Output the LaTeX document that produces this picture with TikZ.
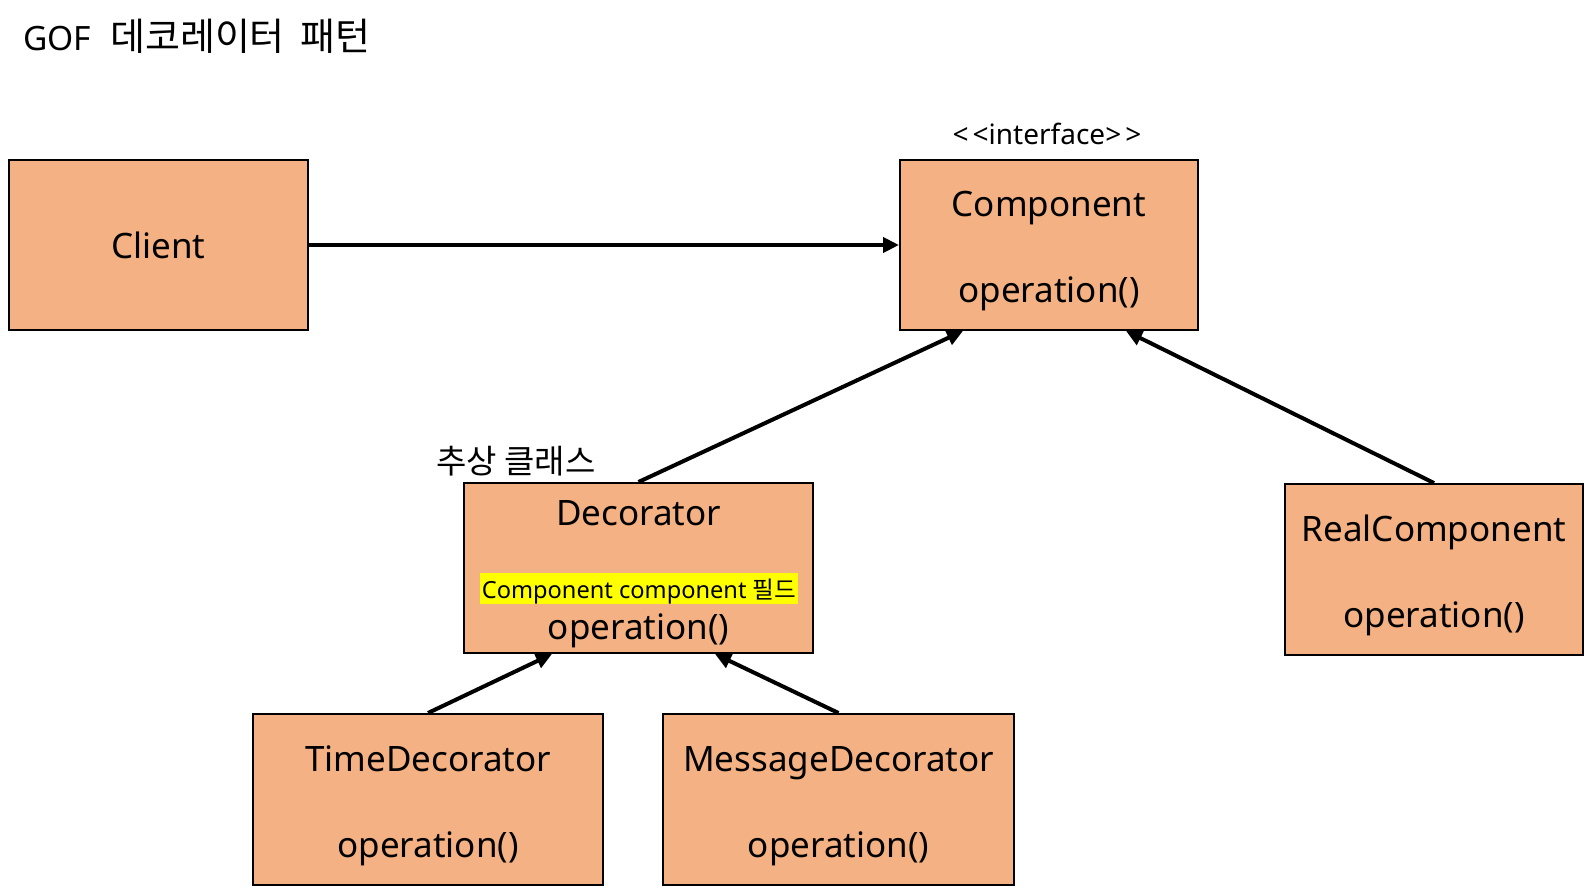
\documentclass[tikz,border=0pt]{standalone}
\usepackage{fontspec}
\setmainfont{Noto Sans}
\newfontfamily\krfont{Noto Sans CJK KR}
\usetikzlibrary{arrows.meta}
\definecolor{boxfill}{HTML}{F4B183}
\definecolor{hl}{HTML}{FFFF00}
\tikzset{
  cls/.style={draw=black, line width=2pt, fill=boxfill, inner sep=0pt},
  txt/.style={inner sep=0pt, anchor=base, font=\fontsize{35}{40}\selectfont},
  conn/.style={line width=4pt, -{Triangle[length=16pt,width=15pt]}},
}
\begin{document}
\begin{tikzpicture}[x=1pt,y=-1pt]
\useasboundingbox[fill=white] (0,0) rectangle (1588,888);
% title
\node[inner sep=0pt, anchor=base west] (title) at (23,51) {\fontsize{33.5}{38}\selectfont GOF\hspace{19pt}{\krfont\fontsize{38}{42}\selectfont 데코레이터\hspace{7pt} 패턴}};
% boxes
\node[cls, minimum width=299pt, minimum height=170pt] (client) at (158.5,245) {};
\node[cls, minimum width=298pt, minimum height=170pt] (comp) at (1049,245) {};
\node[cls, minimum width=349pt, minimum height=170pt] (dec) at (638.5,568) {};
\node[cls, minimum width=298pt, minimum height=171pt] (real) at (1434,569.5) {};
\node[cls, minimum width=350pt, minimum height=171pt] (time) at (428,799.5) {};
\node[cls, minimum width=351pt, minimum height=171pt] (msg) at (838.5,799.5) {};
% texts
\node[txt] (clientname) at (158.5,258) {Client};
\node[inner sep=0pt, anchor=base, font=\fontsize{28}{32}\selectfont] (stereo) at (1047,145) {<\kern4pt<interface>\kern4pt>};
\node[txt] (compname) at (1049,216) {Component};
\node[txt] (compop) at (1049,302) {operation()};
\node[inner sep=0pt, font=\krfont\fontsize{33}{38}\selectfont, anchor=west] (abstract) at (436,461) {추상 클래스};
\node[txt] (decname) at (638.5,525) {Decorator};
\node[anchor=base, fill=hl, inner xsep=2pt, inner ysep=4pt, text height=21pt, text depth=2pt, font=\fontsize{23.6}{27}\selectfont] (field) at (639,598) {Component component {\krfont 필드}};
\node[txt] (decop) at (638.5,639) {operation()};
\node[txt] (realname) at (1434,541) {RealComponent};
\node[txt] (realop) at (1434,627) {operation()};
\node[txt] (timename) at (428,771) {TimeDecorator};
\node[txt] (timeop) at (428,857) {operation()};
\node[txt] (msgname) at (838.5,771) {MessageDecorator};
\node[txt] (msgop) at (838.5,857) {operation()};
% connectors
\draw[conn] (client.east) -- (comp.west);
\draw[conn] (dec.north) -- ([xshift=-86pt]comp.south);
\draw[conn] (real.north) -- ([xshift=77pt]comp.south);
\draw[conn] (time.north) -- ([xshift=-86.5pt]dec.south);
\draw[conn] (msg.north) -- ([xshift=76.5pt]dec.south);
\end{tikzpicture}
\end{document}
